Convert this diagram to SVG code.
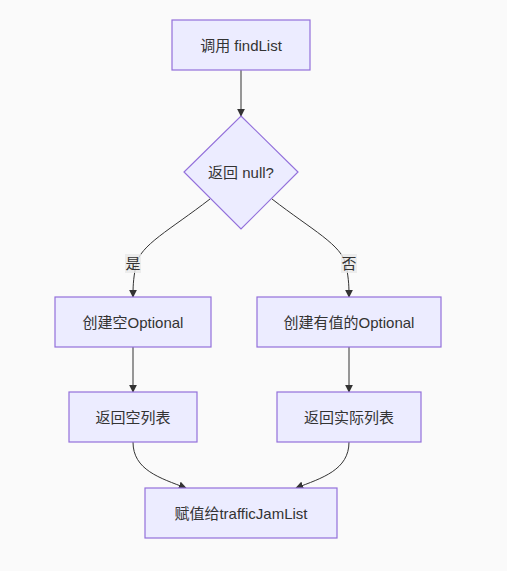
<svg xmlns="http://www.w3.org/2000/svg" width="507" height="571" viewBox="0 0 507 571">
<style>
.node rect,.node polygon{fill:#ECECFF;stroke:#9370DB;stroke-width:1.2}
text{font-family:"Liberation Sans","Noto Sans CJK SC",sans-serif;font-size:15px;fill:#333;text-anchor:middle;dominant-baseline:central}
.edge{fill:none;stroke:#333;stroke-width:1}
.lbl{fill:#e8e8e8;opacity:0.8}
</style>
<defs>
<marker id="arr" viewBox="0 0 10 10" refX="9" refY="5" markerWidth="8" markerHeight="8" orient="auto" markerUnits="userSpaceOnUse">
<path d="M0,0L10,5L0,10z" fill="#333"/>
</marker>
</defs>
<rect width="507" height="571" fill="#fafafa"/>
<g id="edges">
<path class="edge" d="M241,70L241,116" marker-end="url(#arr)"/>
<path class="edge" d="M210,199C170,230 140,245 136,265C133,280 133,288 133,297" marker-end="url(#arr)"/>
<path class="edge" d="M272,199C312,230 342,245 346,265C349,280 349,288 349,297" marker-end="url(#arr)"/>
<path class="edge" d="M133,347L133,392" marker-end="url(#arr)"/>
<path class="edge" d="M349,347L349,392" marker-end="url(#arr)"/>
<path class="edge" d="M133,442C133,470 160,478 186,488" marker-end="url(#arr)"/>
<path class="edge" d="M349,442C349,470 322,478 296,488" marker-end="url(#arr)"/>
<rect class="lbl" x="125" y="254" width="16" height="19"/>
<text x="133" y="263">是</text>
<rect class="lbl" x="341" y="254" width="16" height="19"/>
<text x="349" y="263">否</text>
</g>
<g id="n1" class="node"><rect x="172" y="20" width="138" height="50"/><text x="241" y="45">调用 findList</text></g>
<g id="n2" class="node"><polygon points="241,116 298,172 241,229 184,172"/><text x="241" y="172">返回 null?</text></g>
<g id="n3" class="node"><rect x="55" y="297" width="156" height="50"/><text x="133" y="322">创建空Optional</text></g>
<g id="n4" class="node"><rect x="257" y="297" width="184" height="50"/><text x="349" y="322">创建有值的Optional</text></g>
<g id="n5" class="node"><rect x="69" y="392" width="128" height="50"/><text x="133" y="417">返回空列表</text></g>
<g id="n6" class="node"><rect x="277" y="392" width="144" height="50"/><text x="349" y="417">返回实际列表</text></g>
<g id="n7" class="node"><rect x="145" y="488" width="192" height="50"/><text x="241" y="513">赋值给trafficJamList</text></g>
</svg>
